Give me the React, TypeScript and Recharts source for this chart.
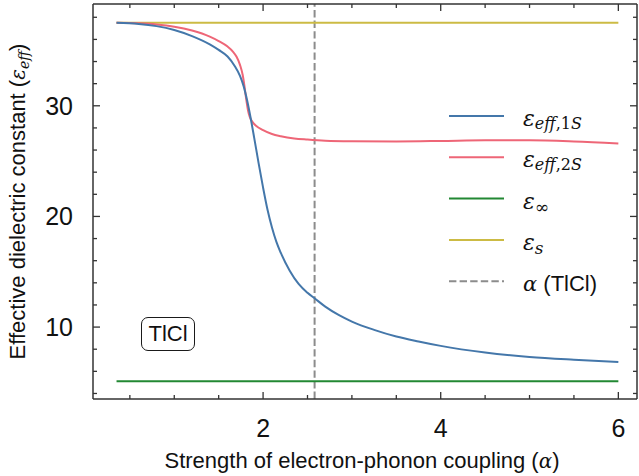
import React from "react";
import { LineChart, Line, XAxis, YAxis, ReferenceLine, Legend } from "recharts";

// ε_eff,1S against coupling strength α
const alpha1S = [
  0.35, 0.6, 0.8, 1.0, 1.2, 1.4, 1.5, 1.6, 1.68, 1.74, 1.78, 1.82, 1.86, 1.9, 1.95, 2.0, 2.05,
  2.1, 2.15, 2.2, 2.3, 2.4, 2.5, 2.58, 2.7, 2.85, 3.0, 3.25, 3.5, 3.75, 4.0, 4.5, 5.0, 5.5, 6.0,
];
const eps1S = [
  37.5, 37.4, 37.2, 36.85, 36.3, 35.55, 35.05, 34.45, 33.6, 32.7, 31.8, 30.5, 28.9, 27.1, 24.8,
  22.6, 20.6, 19.0, 17.7, 16.7, 15.1, 13.9, 13.1, 12.6, 11.85, 11.1, 10.5, 9.75, 9.15, 8.7, 8.3,
  7.7, 7.3, 7.05, 6.85,
];
// ε_eff,2S
const alpha2S = [
  0.35, 0.6, 0.8, 1.0, 1.2, 1.4, 1.5, 1.6, 1.66, 1.7, 1.74, 1.77, 1.79, 1.81, 1.83, 1.85, 1.88,
  1.92, 2.0, 2.1, 2.2, 2.35, 2.5, 2.7, 3.0, 3.5, 4.0, 4.5, 5.0, 5.5, 6.0,
];
const eps2S = [
  37.5, 37.45, 37.35, 37.15, 36.8, 36.25, 35.85, 35.35, 34.9, 34.45, 33.7, 32.8, 31.8, 30.6, 29.6,
  29.0, 28.55, 28.2, 27.8, 27.45, 27.25, 27.05, 26.95, 26.85, 26.8, 26.78, 26.82, 26.88, 26.88,
  26.78, 26.6,
];
const alphaRange = [0.35, 6.0];
const epsInf = 5.1;
const epsS = 37.5;
const alphaTlCl = 2.58;

const xTicks = [0.5, 1, 1.5, 2, 2.5, 3, 3.5, 4, 4.5, 5, 5.5, 6];
const xMajor = [2, 4, 6];
const yTicks = [4, 6, 8, 10, 12, 14, 16, 18, 20, 22, 24, 26, 28, 30, 32, 34, 36, 38];
const yMajor = [10, 20, 30];

const data1S = alpha1S.map((a, i) => ({ a, v: eps1S[i] }));
const data2S = alpha2S.map((a, i) => ({ a, v: eps2S[i] }));
const infData = alphaRange.map((a) => ({ a, v: epsInf }));
const sData = alphaRange.map((a) => ({ a, v: epsS }));

const FRAME = "#333";
const SANS = "'Liberation Sans', Arial, sans-serif";
const MATH = "'DejaVu Serif', 'Liberation Serif', serif";
const XDOM: [number, number] = [0.085, 6.21];
const YDOM: [number, number] = [3.5, 39.2];

const BottomTick = ({ x, y, payload }: any) => {
  const major = xMajor.includes(payload.value);
  return (
    <g>
      <line x1={x} x2={x} y1={y} y2={y - (major ? 7 : 4)} stroke={FRAME} strokeWidth={1.3} />
      {major && (
        <text x={x} y={y + 38} textAnchor="middle" fontSize={25} fontFamily={SANS} fill="#111">
          {payload.value}
        </text>
      )}
    </g>
  );
};
const TopTick = ({ x, y, payload }: any) => {
  const major = xMajor.includes(payload.value);
  return <line x1={x} x2={x} y1={y} y2={y + (major ? 7 : 4)} stroke={FRAME} strokeWidth={1.3} />;
};
const LeftTick = ({ x, y, payload }: any) => {
  const major = yMajor.includes(payload.value);
  return (
    <g>
      <line x1={x} x2={x + (major ? 7 : 4)} y1={y} y2={y} stroke={FRAME} strokeWidth={1.3} />
      {major && (
        <text x={x - 20} y={y + 9} textAnchor="end" fontSize={25} fontFamily={SANS} fill="#111">
          {payload.value}
        </text>
      )}
    </g>
  );
};
const RightTick = ({ x, y, payload }: any) => {
  const major = yMajor.includes(payload.value);
  return <line x1={x} x2={x - (major ? 7 : 4)} y1={y} y2={y} stroke={FRAME} strokeWidth={1.3} />;
};

const XLabel = ({ viewBox }: any) => (
  <text x={viewBox.x + viewBox.width / 2 - 3} y={viewBox.y + 69} textAnchor="middle" fontSize={22} fontFamily={SANS} fill="#111">
    Strength of electron-phonon coupling (
    <tspan fontFamily={MATH} fontStyle="italic" fontSize={20}>α</tspan>)
  </text>
);
const YLabel = ({ viewBox }: any) => {
  const cx = viewBox.x + 25;
  const cy = viewBox.y + viewBox.height / 2;
  return (
    <text x={cx} y={cy} transform={`rotate(-90 ${cx} ${cy})`} textAnchor="middle" fontSize={22} fontFamily={SANS} fill="#111">
      Effective dielectric constant (
      <tspan fontFamily={MATH} fontStyle="italic" fontSize={20}>ε</tspan>
      <tspan fontFamily={MATH} fontStyle="italic" fontSize={14} dy={4}>eff</tspan>
      <tspan dy={-4}>)</tspan>
    </text>
  );
};

const rows = [
  { color: "#4477AA", dash: undefined, kind: "1S" },
  { color: "#EE6677", dash: undefined, kind: "2S" },
  { color: "#228833", dash: undefined, kind: "inf" },
  { color: "#CCBB44", dash: undefined, kind: "s" },
  { color: "#8c8c8c", dash: "7.4 3.2", kind: "alpha" },
];

const legendLabel = (kind: string, y: number) => {
  const tx = 83;
  if (kind === "alpha")
    return (
      <text x={tx} y={y} fontSize={22} fontFamily={SANS} fill="#111">
        <tspan fontFamily={MATH} fontStyle="italic" fontSize={21}>α</tspan> (TlCl)
      </text>
    );
  if (kind === "inf" || kind === "s")
    return (
      <text x={tx} y={y} fontSize={22} fontFamily={MATH} fontStyle="italic" fill="#111">
        ε
        <tspan fontSize={17} dy={4} fontStyle={kind === "inf" ? "normal" : "italic"}>
          {kind === "inf" ? "∞" : "s"}
        </tspan>
      </text>
    );
  return (
    <text x={tx} y={y} fontSize={22} fontFamily={MATH} fontStyle="italic" fill="#111">
      ε
      <tspan fontSize={16} dy={3}>eff</tspan>
      <tspan fontSize={16} fontStyle="normal">,{kind[0]}</tspan>
      <tspan fontSize={16}>S</tspan>
    </text>
  );
};

const renderLegend = () => (
  <svg width={200} height={200}>
    {rows.map((r, i) => {
      const y = 20 + i * 41.3;
      return (
        <g key={r.kind}>
          <line x1={9} x2={64} y1={y} y2={y} stroke={r.color} strokeWidth={2} strokeDasharray={r.dash} />
          {legendLabel(r.kind, y + 10)}
        </g>
      );
    })}
  </svg>
);

export default function App() {
  return (
    <div style={{ position: "absolute", left: 0, top: 0, width: 639, height: 476, background: "#fff" }}>
      <LineChart width={639} height={476} margin={{ top: 3, right: 1, bottom: 0, left: 0 }}>
        <XAxis
          dataKey="a"
          type="number"
          domain={XDOM}
          allowDataOverflow
          ticks={xTicks}
          interval={0}
          tickSize={0}
          tickMargin={0}
          tick={<BottomTick />}
          height={77}
          axisLine={{ stroke: FRAME, strokeWidth: 1.5 }}
          label={<XLabel />}
        />
        <XAxis
          xAxisId="top"
          orientation="top"
          dataKey="a"
          type="number"
          domain={XDOM}
          allowDataOverflow
          ticks={xTicks}
          interval={0}
          tickSize={0}
          tickMargin={0}
          tick={<TopTick />}
          height={1}
          axisLine={{ stroke: FRAME, strokeWidth: 1.5 }}
        />
        <YAxis
          type="number"
          domain={YDOM}
          allowDataOverflow
          ticks={yTicks}
          interval={0}
          tickSize={0}
          tickMargin={0}
          tick={<LeftTick />}
          width={93}
          axisLine={{ stroke: FRAME, strokeWidth: 1.5 }}
          label={<YLabel />}
        />
        <YAxis
          yAxisId="right"
          orientation="right"
          type="number"
          domain={YDOM}
          allowDataOverflow
          ticks={yTicks}
          interval={0}
          tickSize={0}
          tickMargin={0}
          tick={<RightTick />}
          width={1}
          axisLine={{ stroke: FRAME, strokeWidth: 1.5 }}
        />
        <ReferenceLine x={alphaTlCl} stroke="#8c8c8c" strokeWidth={2} strokeDasharray="7.4 3.2" />
        <Line data={infData} dataKey="v" type="linear" stroke="#228833" strokeWidth={2} dot={false} isAnimationActive={false} />
        <Line
          data={sData}
          dataKey="v"
          xAxisId="top"
          yAxisId="right"
          type="linear"
          stroke="#CCBB44"
          strokeWidth={2}
          dot={false}
          isAnimationActive={false}
        />
        <Line data={data2S} dataKey="v" type="monotone" stroke="#EE6677" strokeWidth={2} dot={false} isAnimationActive={false} />
        <Line data={data1S} dataKey="v" type="monotone" stroke="#4477AA" strokeWidth={2} dot={false} isAnimationActive={false} />
        <Legend
          layout="vertical"
          align="center"
          verticalAlign="middle"
          width={200}
          wrapperStyle={{ left: 440, top: 96, width: 200, height: 200 }}
          content={renderLegend}
        />
      </LineChart>
      <div
        style={{
          position: "absolute",
          left: 141,
          top: 317,
          width: 54,
          height: 34,
          boxSizing: "border-box",
          border: "1.8px solid #1a1a1a",
          borderRadius: 7,
          display: "flex",
          alignItems: "center",
          justifyContent: "center",
          fontFamily: SANS,
          fontSize: 22,
          color: "#111",
        }}
      >
        TlCl
      </div>
    </div>
  );
}
